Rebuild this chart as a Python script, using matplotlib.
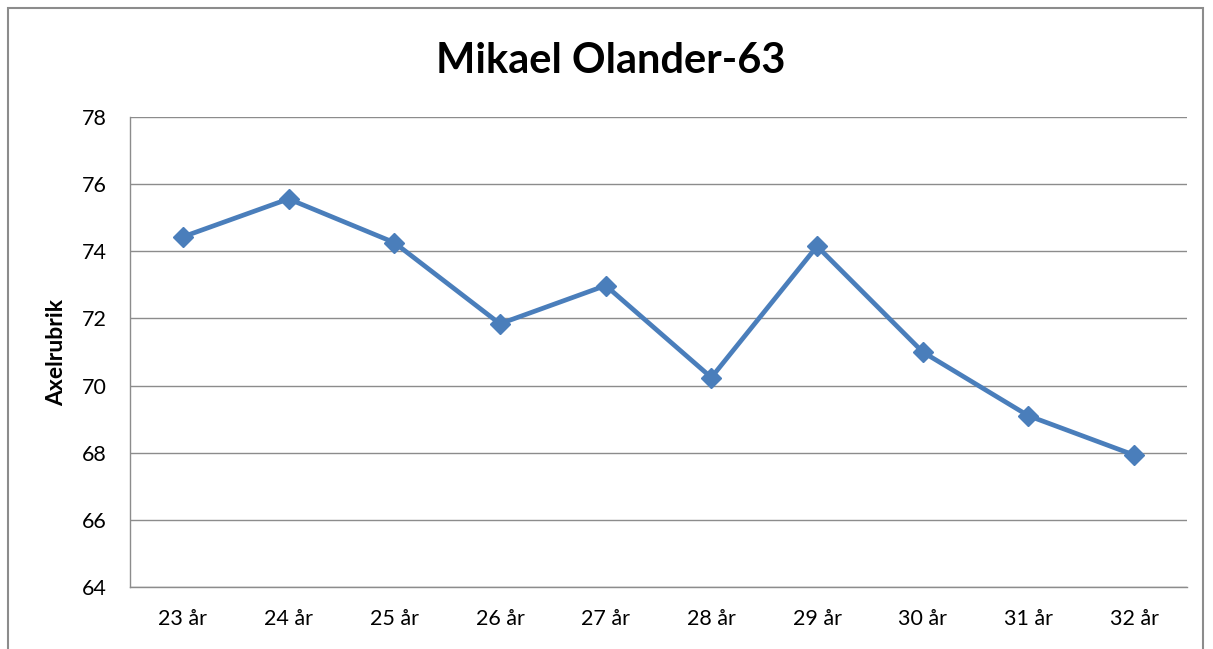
import matplotlib
matplotlib.use("Agg")
import matplotlib.pyplot as plt
from matplotlib.patches import Rectangle

categories = ["23 år", "24 år", "25 år", "26 år", "27 år", "28 år", "29 år", "30 år", "31 år", "32 år"]
values = [74.43, 75.56, 74.26, 71.84, 72.98, 70.24, 74.15, 71.0, 69.1, 67.93]
yticks = [64, 66, 68, 70, 72, 74, 76, 78]

plt.rcParams['font.family'] = ['Lato', 'DejaVu Sans']

W, H = 1213, 649
fig = plt.figure(figsize=(W / 100, H / 100), dpi=100)
fig.patch.set_facecolor("white")

# outer chart frame
fig.patches.append(Rectangle((8 / W, -0.05), (1203 - 8) / W, (H - 8) / H + 0.05,
                             transform=fig.transFigure, fill=False,
                             edgecolor="#8c8c8c", linewidth=1.5))

ax = fig.add_axes([130 / W, 1 - 587 / H, (1187 - 130) / W, (587 - 117) / H])
x = list(range(len(categories)))
ax.plot(x, values, color="#4A7EBB", linewidth=3.4, marker="D", markersize=10.5,
        markerfacecolor="#4A7EBB", markeredgecolor="#4A7EBB", zorder=3)

ax.set_xlim(-0.5, len(categories) - 0.5)
ax.set_ylim(64, 78)
ax.set_yticks(yticks)
ax.set_yticklabels([str(t) for t in yticks])
ax.set_xticks(x)
ax.set_xticklabels(categories)
ax.tick_params(axis="both", length=0, labelsize=15.5, colors="#000000")
ax.tick_params(axis="y", pad=17)
ax.tick_params(axis="x", pad=16)
ax.yaxis.grid(True, color="#8c8c8c", linewidth=1)
ax.set_axisbelow(True)
for s in ["top", "right"]:
    ax.spines[s].set_visible(False)
for s in ["left", "bottom"]:
    ax.spines[s].set_color("#8c8c8c")
    ax.spines[s].set_linewidth(1)

ax.set_ylabel("Axelrubrik", fontsize=16.5, fontweight="bold", labelpad=10)
fig.text(611 / W, 1 - 61 / H, "Mikael Olander-63", ha="center", va="center",
         fontsize=30, fontweight="bold")

fig.savefig("out.png", dpi=100, facecolor="white")
